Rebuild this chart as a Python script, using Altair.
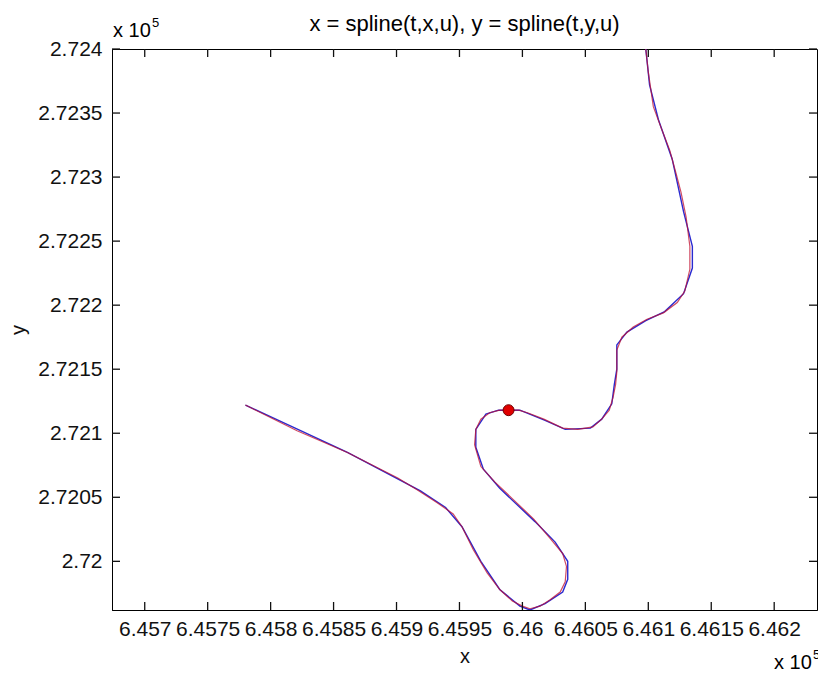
import altair as alt
import pandas as pd

# Spline curve (red)
red_x = [645780, 645821, 645861, 645901, 645916, 645932, 645945, 645952, 645961, 645972,
         645982, 645992, 646000, 646006, 646014, 646022, 646030, 646034, 646035, 646032,
         646022, 646009, 645993, 645978, 645967, 645962, 645963, 645967, 645974, 645982,
         645989, 645997, 646004, 646017, 646032, 646044, 646056, 646063, 646069, 646072,
         646074, 646075, 646075, 646079, 646088, 646099, 646112, 646123, 646129, 646133,
         646133, 646130, 646126, 646122, 646117, 646110, 646104, 646100, 646098, 646098]
red_y = [272122, 272102, 272085, 272065, 272056, 272046, 272037, 272027, 272009, 271991,
         271978, 271969, 271965, 271963, 271965, 271970, 271976, 271984, 271996, 272006,
         272018, 272033, 272048, 272062, 272074, 272091, 272103, 272111, 272116, 272118,
         272118, 272118, 272116, 272111, 272104, 272103, 272105, 272111, 272118, 272128,
         272138, 272148, 272165, 272175, 272183, 272189, 272194, 272202, 272211, 272228,
         272246, 272269, 272288, 272303, 272321, 272339, 272355, 272382, 272400, 272411]

# Original data polyline (blue)
blue_x = [645780, 645861, 645919, 645939, 645952, 645967, 645982, 645998, 646006, 646018,
          646032, 646036, 646036, 646026, 646010, 645982, 645969, 645963, 645963, 645971,
          645981, 645998, 646018, 646034, 646054, 646063, 646071, 646073, 646075, 646075,
          646083, 646098, 646113, 646128, 646135, 646135, 646128, 646119, 646108, 646101,
          646098, 646098]
blue_y = [272122, 272085, 272055, 272042, 272027, 272000, 271978, 271965, 271962, 271967,
          271976, 271986, 272000, 272015, 272031, 272057, 272072, 272089, 272103, 272115,
          272118, 272118, 272110, 272103, 272104, 272111, 272123, 272138, 272150, 272169,
          272179, 272188, 272195, 272209, 272229, 272246, 272273, 272314, 272345, 272372,
          272400, 272411]

dot_x = [645989]
dot_y = [272118]

x_ticks = [645700, 645750, 645800, 645850, 645900, 645950, 646000, 646050, 646100, 646150, 646200]
y_ticks = [272000, 272050, 272100, 272150, 272200, 272250, 272300, 272350, 272400]
x_domain = [645674, 646234]
y_domain = [271962, 272400]

W, H = 705, 561
FONT = "Liberation Sans, Arial, sans-serif"

red_df = pd.DataFrame({"x": red_x, "y": red_y, "i": range(len(red_x))})
blue_df = pd.DataFrame({"x": blue_x, "y": blue_y, "i": range(len(blue_x))})
dot_df = pd.DataFrame({"x": dot_x, "y": dot_y})
xt_df = pd.DataFrame({"x": x_ticks})
yt_df = pd.DataFrame({"y": y_ticks})

xscale = alt.Scale(domain=x_domain, nice=False, zero=False)
yscale = alt.Scale(domain=y_domain, nice=False, zero=False)

x_axis = alt.Axis(values=x_ticks, labelExpr="format(datum.value / 100000, '.6~g')",
                  ticks=False, labelPadding=8, labelOverlap=False, labelFlush=False,
                  grid=False, title="x", titleX=W / 2, titleY=52, titleBaseline="alphabetic",
                  titleAlign="center")
y_axis = alt.Axis(values=y_ticks, labelExpr="format(datum.value / 100000, '.6~g')",
                  ticks=False, labelPadding=10, labelOverlap=False, labelFlush=False,
                  grid=False, title="y", titleX=-88, titleY=H / 2, titleAngle=270,
                  titleBaseline="alphabetic", titleAlign="center")

blue = alt.Chart(blue_df).mark_line(color="#2a2ad0", strokeWidth=1.4, clip=True).encode(
    x=alt.X("x:Q", scale=xscale, axis=x_axis),
    y=alt.Y("y:Q", scale=yscale, axis=y_axis),
    order="i:Q",
)
red = alt.Chart(red_df).mark_line(color="#c01030", strokeWidth=1.2, opacity=0.75, clip=True).encode(
    x=alt.X("x:Q", scale=xscale),
    y=alt.Y("y:Q", scale=yscale),
    order="i:Q",
)
dot = alt.Chart(dot_df).mark_point(filled=True, shape="circle", size=120, color="#e00000",
                                   stroke="#700000", strokeWidth=1, opacity=1).encode(
    x=alt.X("x:Q", scale=xscale),
    y=alt.Y("y:Q", scale=yscale),
)

TL = 8
TC = "#111111"
bt = alt.Chart(xt_df).mark_tick(color=TC, thickness=1.3, size=TL, opacity=1).encode(
    x=alt.X("x:Q", scale=xscale), y=alt.value(H - TL / 2))
tt = alt.Chart(xt_df).mark_tick(color=TC, thickness=1.3, size=TL, opacity=1).encode(
    x=alt.X("x:Q", scale=xscale), y=alt.value(TL / 2))
lt = alt.Chart(yt_df).mark_tick(color=TC, thickness=1.3, size=TL, opacity=1).encode(
    y=alt.Y("y:Q", scale=yscale), x=alt.value(TL / 2))
rt = alt.Chart(yt_df).mark_tick(color=TC, thickness=1.3, size=TL, opacity=1).encode(
    y=alt.Y("y:Q", scale=yscale), x=alt.value(W - TL / 2))

one = pd.DataFrame({"a": [0]})
title = alt.Chart(one).mark_text(text="x = spline(t,x,u), y = spline(t,y,u)", font=FONT,
                                 fontSize=22, align="center", baseline="alphabetic",
                                 color="black").encode(x=alt.value(W / 2), y=alt.value(-18))
exp1 = alt.Chart(one).mark_text(text="x 10", font=FONT, fontSize=20, align="left",
                                baseline="alphabetic", color="black").encode(
    x=alt.value(1), y=alt.value(-12))
exp1s = alt.Chart(one).mark_text(text="5", font=FONT, fontSize=13, align="left",
                                 baseline="alphabetic", color="black").encode(
    x=alt.value(40), y=alt.value(-22))
exp2 = alt.Chart(one).mark_text(text="x 10", font=FONT, fontSize=20, align="left",
                                baseline="alphabetic", color="black").encode(
    x=alt.value(662), y=alt.value(H + 59))
exp2s = alt.Chart(one).mark_text(text="5", font=FONT, fontSize=13, align="left",
                                 baseline="alphabetic", color="black").encode(
    x=alt.value(701), y=alt.value(H + 49))

chart = alt.layer(blue, red, dot, bt, tt, lt, rt, title, exp1, exp1s, exp2, exp2s).properties(
    width=W, height=H,
    padding={"left": 112, "top": 49, "right": 1, "bottom": 65},
    autosize=alt.AutoSizeParams(type="none"),
    background="white",
).configure_view(stroke="black", strokeWidth=1).configure_axis(
    labelFont=FONT, labelFontSize=21, labelColor="#111", titleFont=FONT, titleFontSize=20,
    titleFontWeight="normal", titleColor="#111", domainColor="black", domainWidth=1,
)

chart.save("out.html", embed_options={"renderer": "svg", "actions": False})
